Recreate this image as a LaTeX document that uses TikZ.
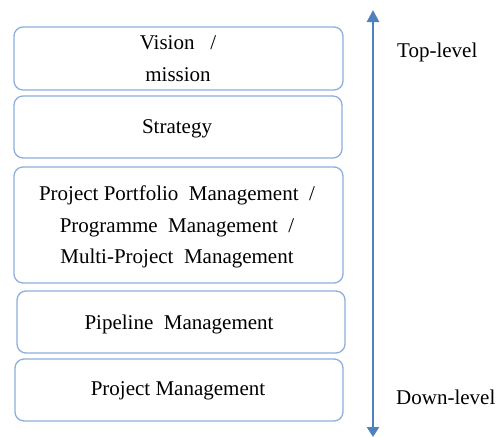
\documentclass[tikz,border=0pt]{standalone}
\usepackage{fontspec}
\setmainfont{Liberation Serif}
\usetikzlibrary{arrows.meta}
\definecolor{boxline}{HTML}{8DAEDB}
\definecolor{arrowblue}{HTML}{4F81BD}
\begin{document}
\begin{tikzpicture}[x=1pt,y=-1pt,
  layer/.style={draw=boxline, line width=1.3pt, rounded corners=9pt, fill=white},
  lbl/.style={font=\fontsize{21}{31.5}\selectfont, align=center, inner sep=0pt},
  side/.style={font=\fontsize{21}{24}\selectfont, anchor=west, inner sep=0pt}]
\useasboundingbox (0,0) rectangle (499,437);
% boxes
\draw[layer] (14,27) rectangle (343,90);
\draw[layer] (14,96) rectangle (342,158);
\draw[layer] (14,167) rectangle (343,283);
\draw[layer] (17,291) rectangle (345,353);
\draw[layer] (15,359) rectangle (343,421);
\node[lbl] (vision) at (178,58.5) {Vision\ \ \ /\\mission};
\node[lbl] (strategy) at (177,129) {Strategy};
\node[lbl] (ppm) at (177,227) {Project Portfolio\ \ Management\ \ /\\Programme\ \ Management\ \ /\\Multi-Project\ \ Management};
\node[lbl] (pipe) at (179,324) {Pipeline\ \ Management};
\node[lbl] (pm) at (178,391) {Project Management};
% arrow
\coordinate (atop) at (373,10);
\coordinate (abot) at (373,437);
\draw[arrowblue, line width=2.6pt, {Triangle[length=12pt,width=12pt]}-{Triangle[length=10pt,width=12pt]}] (atop) -- (abot);
\node[side] (top) at (397,52) {Top-level};
\node[side] (down) at (396,397) {Down-level};
\end{tikzpicture}
\end{document}
